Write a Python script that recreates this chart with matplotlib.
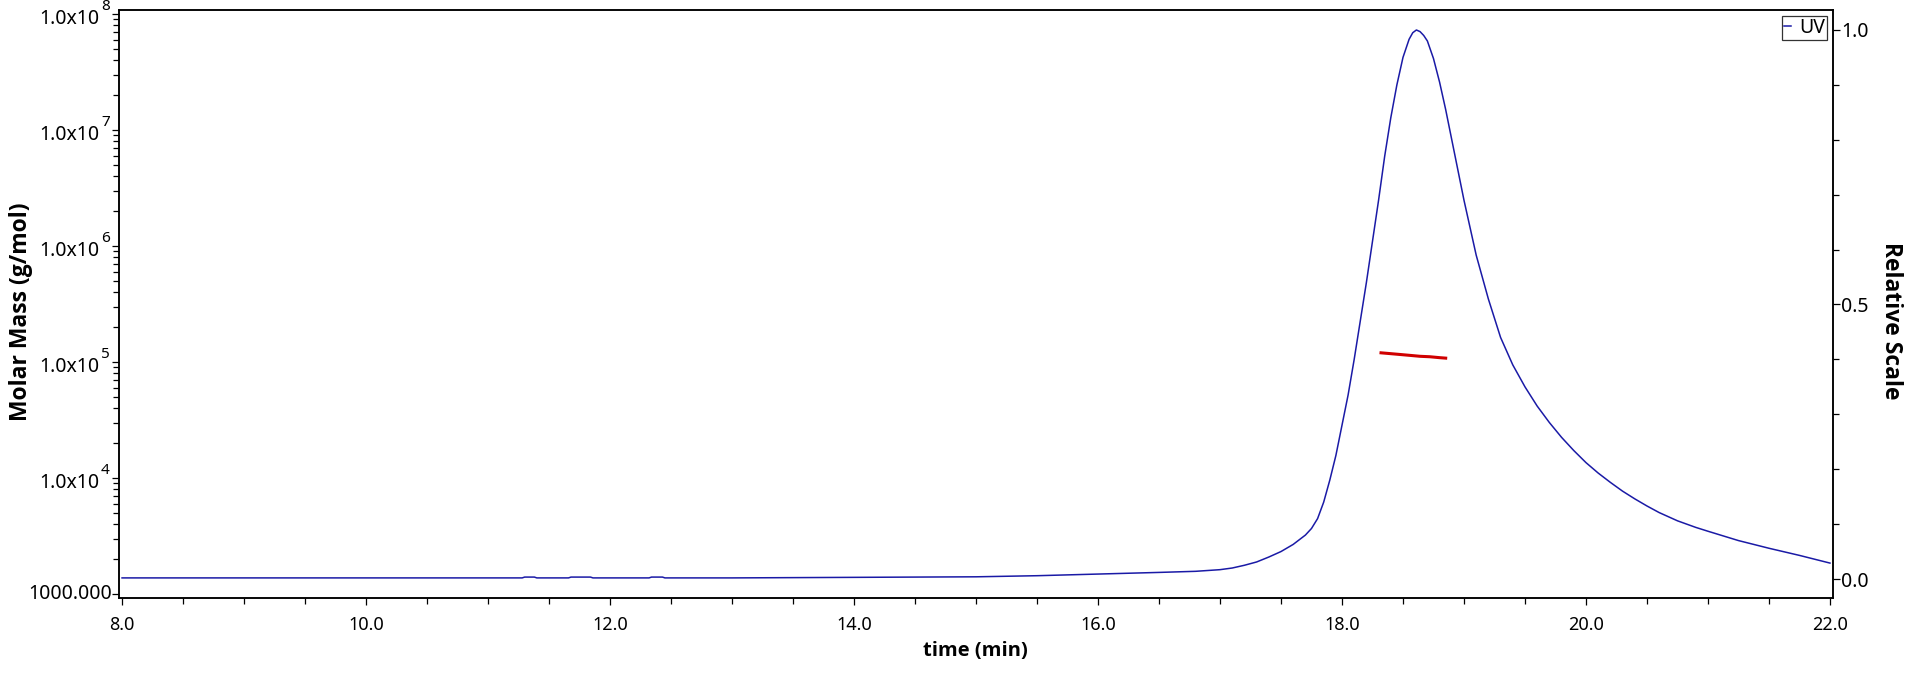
import numpy as np
import matplotlib
matplotlib.use('Agg')
import matplotlib.pyplot as plt
import matplotlib.transforms as mtransforms
from matplotlib.ticker import FixedLocator, FuncFormatter, MultipleLocator, NullFormatter

plt.rcParams['font.family'] = ['Noto Sans', 'DejaVu Sans']

############################### data ###############################
# UV trace (relative scale, right axis)
uv_time = [8.0, 11.28, 11.30, 11.38, 11.40, 11.66, 11.68, 11.84, 11.86, 12.32, 12.34, 12.43, 12.45,
           13.0, 14.0, 15.0, 15.5, 16.0, 16.5, 16.8, 17.0, 17.1, 17.2, 17.3, 17.4, 17.5, 17.6, 17.7,
           17.75, 17.8, 17.85, 17.9, 17.95, 18.0, 18.05, 18.1, 18.15, 18.2, 18.25, 18.3, 18.35, 18.4,
           18.45, 18.5, 18.55, 18.58, 18.61, 18.64, 18.67, 18.7, 18.75, 18.8, 18.85, 18.9, 18.95, 19.0,
           19.05, 19.1, 19.15, 19.2, 19.3, 19.4, 19.5, 19.6, 19.7, 19.8, 19.9, 20.0, 20.1, 20.2, 20.3,
           20.4, 20.5, 20.6, 20.75, 20.9, 21.0, 21.25, 21.5, 21.75, 22.0]
uv_rel = [0.002, 0.002, 0.0035, 0.0035, 0.002, 0.002, 0.0035, 0.0035, 0.002, 0.002, 0.0035, 0.0035, 0.002,
          0.002, 0.003, 0.004, 0.006, 0.009, 0.012, 0.014, 0.017, 0.020, 0.025, 0.031, 0.040, 0.050, 0.063, 0.080,
          0.092, 0.11, 0.14, 0.18, 0.225, 0.28, 0.335, 0.40, 0.47, 0.54, 0.615, 0.69, 0.77, 0.84,
          0.90, 0.95, 0.983, 0.995, 1.0, 0.997, 0.99, 0.98, 0.948, 0.905, 0.855, 0.80, 0.745, 0.69,
          0.64, 0.59, 0.55, 0.51, 0.44, 0.39, 0.35, 0.315, 0.285, 0.258, 0.234, 0.212, 0.193, 0.176, 0.160,
          0.146, 0.133, 0.121, 0.106, 0.094, 0.087, 0.070, 0.056, 0.043, 0.029]

# molar mass across the peak (left axis, log)
mm_time = [18.32, 18.40, 18.48, 18.56, 18.64, 18.72, 18.80, 18.85]
mm_value = [1.20e5, 1.18e5, 1.16e5, 1.14e5, 1.12e5, 1.11e5, 1.09e5, 1.08e5]

left_ticks = [1e3, 1e4, 1e5, 1e6, 1e7, 1e8]

############################### plot ###############################
fig = plt.figure(figsize=(19.2, 6.8), dpi=100)
ax = fig.add_axes([0.06198, 0.12059, 0.89271, 0.86471])
ax2 = ax.twinx()

ax.plot(mm_time, mm_value, color='#d00000', lw=2.2, zorder=3)
ax2.plot(uv_time, uv_rel, color='#1a1aa6', lw=1.1, label='UV')

ax.set_xlim(7.975, 22.025)
ax.set_yscale('log')
ax.set_ylim(923.7, 1.083e8)
ax2.set_ylim(-0.0346, 1.0364)

ax.xaxis.set_major_locator(MultipleLocator(2))
ax.xaxis.set_minor_locator(MultipleLocator(0.5))
ax.xaxis.set_major_formatter(FuncFormatter(lambda v, p: '%.1f' % v))

# left ticks: labels drawn by hand so the exponent sits high like the original
ax.yaxis.set_major_locator(FixedLocator(left_ticks))
ax.yaxis.set_major_formatter(NullFormatter())
ax.yaxis.set_minor_formatter(NullFormatter())
ytr = ax.get_yaxis_transform()
def px(dx, dy):
    return ytr + mtransforms.ScaledTranslation(dx / 100, dy / 100, fig.dpi_scale_trans)
for v in left_ticks:
    if v == 1000:
        ax.text(0, v, '1000.000', transform=px(-7, 0), ha='right', va='center', fontsize=14)
    else:
        ax.text(0, v, '1.0x10', transform=px(-20, -5), ha='right', va='center', fontsize=14)
        ax.text(0, v, '%d' % int(round(np.log10(v))), transform=px(-18, 8),
                ha='left', va='center', fontsize=11)

ax2.yaxis.set_major_locator(MultipleLocator(0.5))
ax2.yaxis.set_minor_locator(MultipleLocator(0.1))
ax2.yaxis.set_major_formatter(FuncFormatter(lambda v, p: '%.1f' % v))

for a in (ax, ax2):
    for s in a.spines.values():
        s.set_linewidth(1.1)
    a.tick_params(which='both', direction='out', width=0.9, labelsize=13, colors='black')
    a.tick_params(which='major', length=5)
    a.tick_params(which='minor', length=4)
ax.tick_params(axis='x', pad=8)
ax2.tick_params(axis='y', pad=1, labelsize=14)

lab_font = dict(fontweight='bold', family=['Open Sans', 'DejaVu Sans'])
ax.set_xlabel('time (min)', fontsize=14.5, **lab_font)
ax.xaxis.set_label_coords(0.4994, -0.073)
ax.set_ylabel('Molar Mass (g/mol)', fontsize=16.5, **lab_font)
ax.yaxis.set_label_coords(-0.050, 0.486)
ax2.set_ylabel('Relative Scale', rotation=270, fontsize=16.5, **lab_font)
ax2.yaxis.set_label_coords(1.041, 0.471)

leg = ax2.legend(loc='upper right', fontsize=14, frameon=True, fancybox=False,
                 handlelength=0.35, handletextpad=0.45, borderpad=0.1, borderaxespad=0.3)
leg.get_frame().set_edgecolor('black')
leg.get_frame().set_linewidth(0.9)

fig.savefig('out.png', dpi=100)
